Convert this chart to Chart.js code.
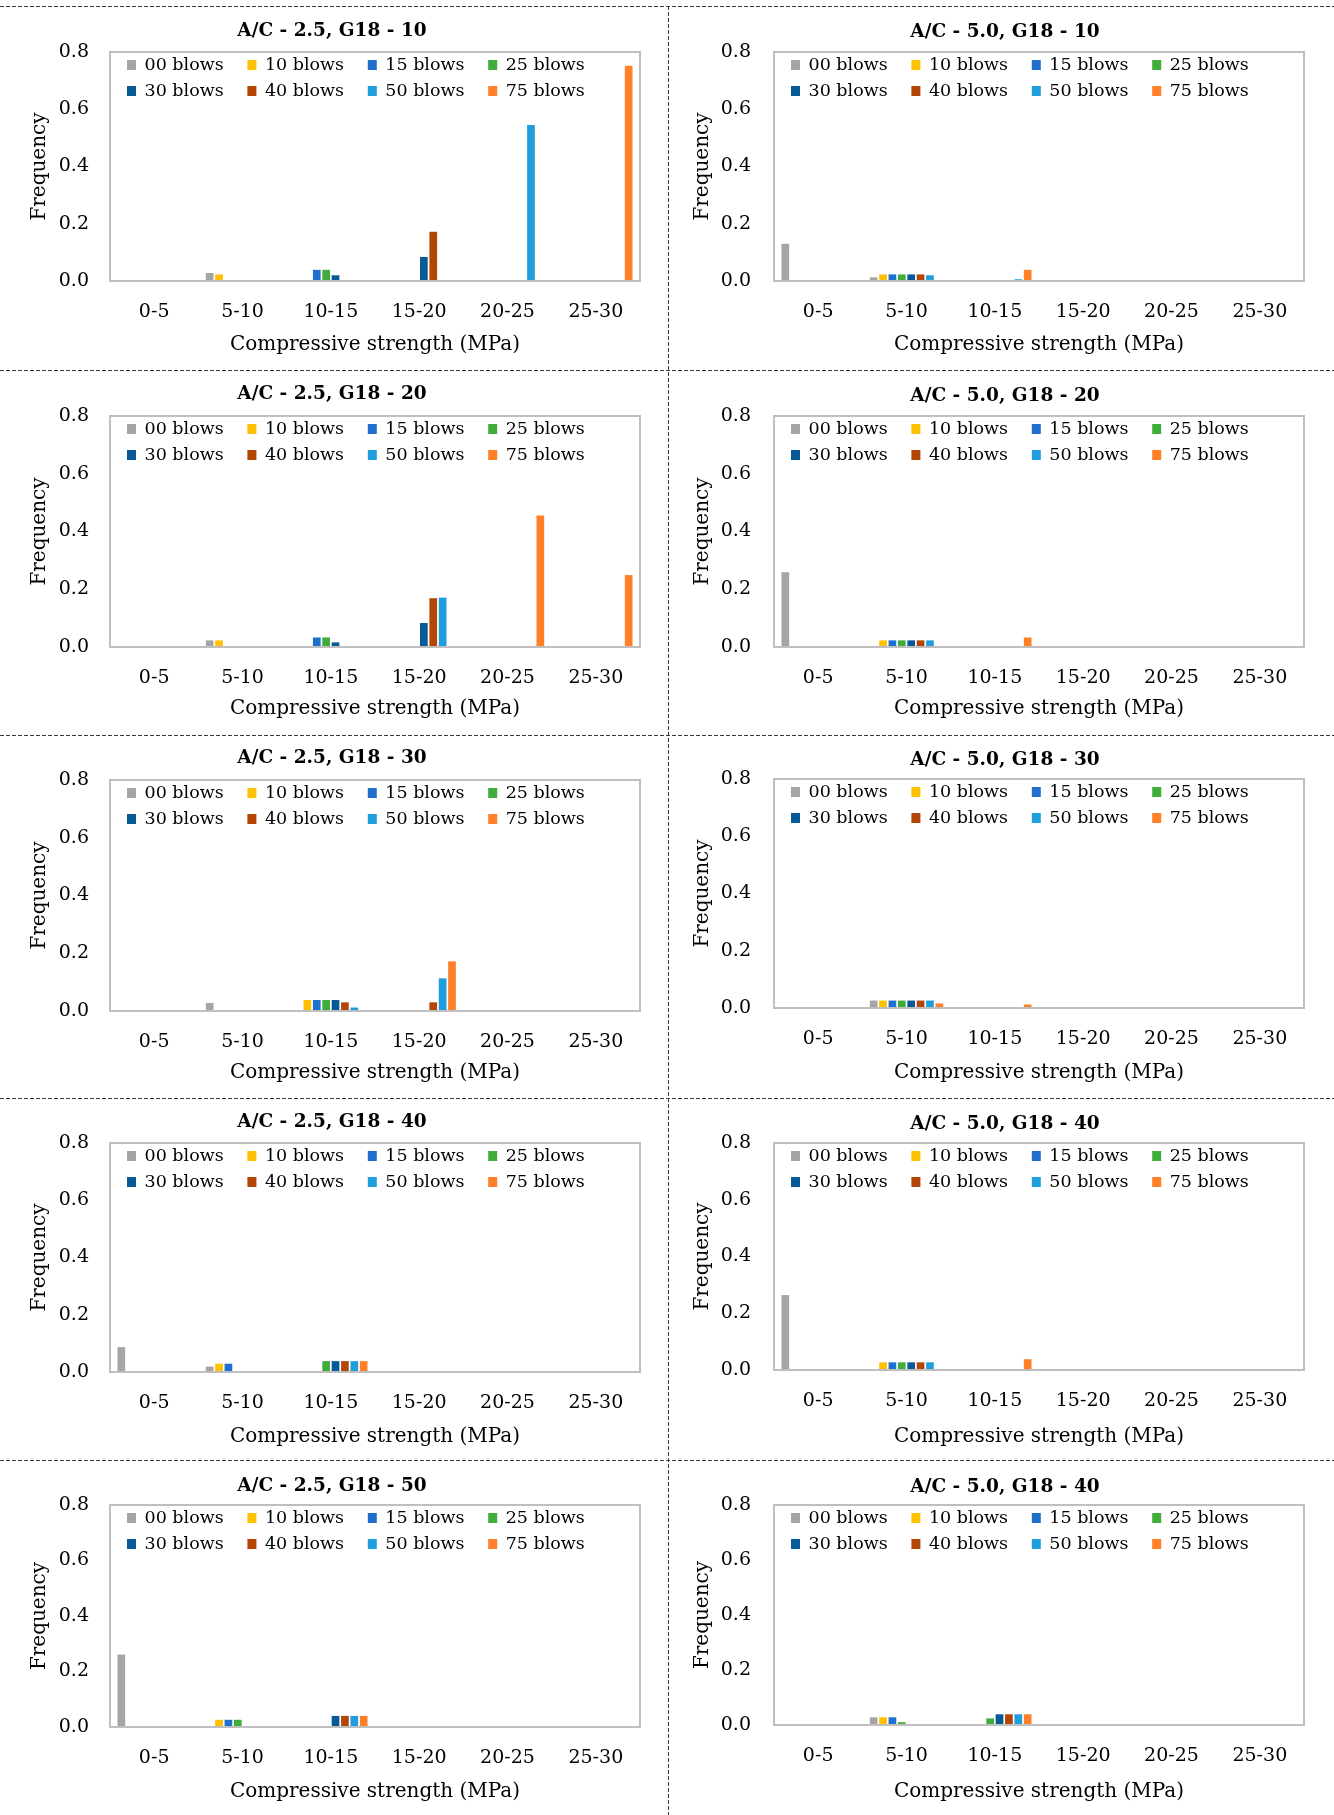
<!DOCTYPE html>
<html>
<head>
<meta charset="utf-8">
<script src="https://cdn.jsdelivr.net/npm/chart.js@4.4.0/dist/chart.umd.min.js"></script>
<style>
    body { margin: 0; background: #fff; }
    #page { position: relative; width: 1334px; height: 1815px; overflow: hidden; }
    #page canvas { position: absolute; }
</style>
</head>
<body>
<div id="page">
    <canvas id="separators" width="1334" height="1815" style="left:0;top:0"></canvas>
</div>
<script>
// ---- data ----
const categories = ['0-5', '5-10', '10-15', '15-20', '20-25', '25-30'];
const blowLabels = ['00 blows', '10 blows', '15 blows', '25 blows', '30 blows', '40 blows', '50 blows', '75 blows'];
const blowColors = ['#a5a5a5', '#ffc000', '#1f70cd', '#40ad3a', '#065a96', '#b44605', '#1e9edc', '#ff8028'];
const yTicks = [0, 0.2, 0.4, 0.6, 0.8];

// one row per blow count, one column per strength class
const ac25_g10 = [
    [0, 0.028, 0, 0, 0, 0],
    [0, 0.023, 0, 0, 0, 0],
    [0, 0, 0.039, 0, 0, 0],
    [0, 0, 0.039, 0, 0, 0],
    [0, 0, 0.020, 0.084, 0, 0],
    [0, 0, 0, 0.172, 0, 0],
    [0, 0, 0, 0, 0.545, 0],
    [0, 0, 0, 0, 0, 0.752]
];
const ac50_g10 = [
    [0.130, 0.013, 0, 0, 0, 0],
    [0, 0.023, 0, 0, 0, 0],
    [0, 0.023, 0, 0, 0, 0],
    [0, 0.023, 0, 0, 0, 0],
    [0, 0.023, 0, 0, 0, 0],
    [0, 0.023, 0, 0, 0, 0],
    [0, 0.020, 0.006, 0, 0, 0],
    [0, 0, 0.039, 0, 0, 0]
];
const ac25_g20 = [
    [0, 0.023, 0, 0, 0, 0],
    [0, 0.023, 0, 0, 0, 0],
    [0, 0, 0.033, 0, 0, 0],
    [0, 0, 0.033, 0, 0, 0],
    [0, 0, 0.016, 0.083, 0, 0],
    [0, 0, 0, 0.169, 0, 0],
    [0, 0, 0, 0.171, 0, 0],
    [0, 0, 0, 0, 0.455, 0.249]
];
const ac50_g20 = [
    [0.259, 0, 0, 0, 0, 0],
    [0, 0.023, 0, 0, 0, 0],
    [0, 0.023, 0, 0, 0, 0],
    [0, 0.023, 0, 0, 0, 0],
    [0, 0.023, 0, 0, 0, 0],
    [0, 0.023, 0, 0, 0, 0],
    [0, 0.023, 0, 0, 0, 0],
    [0, 0, 0.033, 0, 0, 0]
];
const ac25_g30 = [
    [0, 0.028, 0, 0, 0, 0],
    [0, 0, 0.038, 0, 0, 0],
    [0, 0, 0.038, 0, 0, 0],
    [0, 0, 0.038, 0, 0, 0],
    [0, 0, 0.038, 0, 0, 0],
    [0, 0, 0.030, 0.030, 0, 0],
    [0, 0, 0.012, 0.113, 0, 0],
    [0, 0, 0, 0.172, 0, 0]
];
const ac50_g30 = [
    [0, 0.026, 0, 0, 0, 0],
    [0, 0.026, 0, 0, 0, 0],
    [0, 0.026, 0, 0, 0, 0],
    [0, 0.026, 0, 0, 0, 0],
    [0, 0.026, 0, 0, 0, 0],
    [0, 0.026, 0, 0, 0, 0],
    [0, 0.026, 0, 0, 0, 0],
    [0, 0.016, 0.012, 0, 0, 0]
];
const ac25_g40 = [
    [0.087, 0.019, 0, 0, 0, 0],
    [0, 0.029, 0, 0, 0, 0],
    [0, 0.029, 0, 0, 0, 0],
    [0, 0, 0.038, 0, 0, 0],
    [0, 0, 0.038, 0, 0, 0],
    [0, 0, 0.038, 0, 0, 0],
    [0, 0, 0.038, 0, 0, 0],
    [0, 0, 0.038, 0, 0, 0]
];
const ac50_g40 = [
    [0.264, 0, 0, 0, 0, 0],
    [0, 0.027, 0, 0, 0, 0],
    [0, 0.027, 0, 0, 0, 0],
    [0, 0.027, 0, 0, 0, 0],
    [0, 0.027, 0, 0, 0, 0],
    [0, 0.027, 0, 0, 0, 0],
    [0, 0.027, 0, 0, 0, 0],
    [0, 0, 0.038, 0, 0, 0]
];
const ac25_g50 = [
    [0.261, 0, 0, 0, 0, 0],
    [0, 0.026, 0, 0, 0, 0],
    [0, 0.026, 0, 0, 0, 0],
    [0, 0.026, 0, 0, 0, 0],
    [0, 0, 0.040, 0, 0, 0],
    [0, 0, 0.040, 0, 0, 0],
    [0, 0, 0.040, 0, 0, 0],
    [0, 0, 0.040, 0, 0, 0]
];
const ac50_g40b = [
    [0, 0.028, 0, 0, 0, 0],
    [0, 0.028, 0, 0, 0, 0],
    [0, 0.028, 0, 0, 0, 0],
    [0, 0.010, 0.024, 0, 0, 0],
    [0, 0, 0.039, 0, 0, 0],
    [0, 0, 0.039, 0, 0, 0],
    [0, 0, 0.039, 0, 0, 0],
    [0, 0, 0.039, 0, 0, 0]
];

// ---- layout ----
const FONT = "'DejaVu Serif', serif";
Chart.defaults.color = '#000';
Chart.defaults.font.family = FONT;

const columns = [
    { x: 0, w: 664, plotL: 110, plotR: 640, tickRight: 89, yTitleX: 40, titleX: 332 },
    { x: 672, w: 662, plotL: 774, plotR: 1304, tickRight: 751, yTitleX: 703, titleX: 1005 }
];

const panels = [
    { title: 'A/C - 2.5, G18 - 10', values: ac25_g10, col: 0, plotTop: 52, plotBottom: 281, titleY: 31, xTitleGap: 62 },
    { title: 'A/C - 5.0, G18 - 10', values: ac50_g10, col: 1, plotTop: 52, plotBottom: 281, titleY: 32, xTitleGap: 62 },
    { title: 'A/C - 2.5, G18 - 20', values: ac25_g20, col: 0, plotTop: 416, plotBottom: 647, titleY: 394, xTitleGap: 60 },
    { title: 'A/C - 5.0, G18 - 20', values: ac50_g20, col: 1, plotTop: 416, plotBottom: 647, titleY: 396, xTitleGap: 60 },
    { title: 'A/C - 2.5, G18 - 30', values: ac25_g30, col: 0, plotTop: 780, plotBottom: 1011, titleY: 758, xTitleGap: 60 },
    { title: 'A/C - 5.0, G18 - 30', values: ac50_g30, col: 1, plotTop: 779, plotBottom: 1008, titleY: 760, xTitleGap: 63 },
    { title: 'A/C - 2.5, G18 - 40', values: ac25_g40, col: 0, plotTop: 1143, plotBottom: 1372, titleY: 1122, xTitleGap: 63 },
    { title: 'A/C - 5.0, G18 - 40', values: ac50_g40, col: 1, plotTop: 1143, plotBottom: 1370, titleY: 1124, xTitleGap: 65 },
    { title: 'A/C - 2.5, G18 - 50', values: ac25_g50, col: 0, plotTop: 1505, plotBottom: 1727, titleY: 1486, xTitleGap: 63 },
    { title: 'A/C - 5.0, G18 - 40', values: ac50_g40b, col: 1, plotTop: 1505, plotBottom: 1725, titleY: 1487, xTitleGap: 65 }
];

// dashed frame lines between the panels
(function drawSeparators() {
    const ctx = document.getElementById('separators').getContext('2d');
    ctx.strokeStyle = '#3a3a3a';
    ctx.lineWidth = 1;
    ctx.setLineDash([4, 2]);
    [6, 370, 735, 1098, 1460].forEach(y => {
        ctx.beginPath();
        ctx.moveTo(0, y + 0.5);
        ctx.lineTo(1334, y + 0.5);
        ctx.stroke();
    });
    ctx.beginPath();
    ctx.moveTo(668.5, 6);
    ctx.lineTo(668.5, 1815);
    ctx.stroke();
})();

// plot frame, inside legend (2 rows x 4) and the panel title
const panelDecor = {
    id: 'panelDecor',
    afterDatasetsDraw(chart, args, opts) {
        const { ctx, chartArea: a } = chart;
        ctx.save();
        ctx.strokeStyle = '#bfbfbf';
        ctx.lineWidth = 2;
        ctx.strokeRect(a.left, a.top, a.right - a.left, a.bottom - a.top);

        ctx.font = `17.5px ${FONT}`;
        ctx.textBaseline = 'middle';
        ctx.textAlign = 'left';
        chart.data.datasets.forEach((ds, i) => {
            const x = a.left + 17 + (i % 4) * 120.4;
            const y = a.top + 13 + Math.floor(i / 4) * 26;
            ctx.fillStyle = ds.backgroundColor;
            ctx.fillRect(x, y - 5, 9, 10);
            ctx.fillStyle = '#000';
            ctx.fillText(ds.label, x + 17.5, y);
        });

        ctx.font = `bold 18.5px ${FONT}`;
        ctx.textAlign = 'center';
        ctx.fillText(opts.text, opts.x, opts.y);
        ctx.restore();
    }
};

panels.forEach(p => {
    const c = columns[p.col];
    const padTop = 40;
    const top = p.plotTop - padTop;
    const axisH = p.xTitleGap + 12 + 2;
    const h = p.plotBottom - top + axisH;

    const canvas = document.createElement('canvas');
    canvas.width = c.w;
    canvas.height = h;
    canvas.style.left = c.x + 'px';
    canvas.style.top = top + 'px';
    document.getElementById('page').appendChild(canvas);

    new Chart(canvas, {
        type: 'bar',
        data: {
            labels: categories,
            datasets: blowLabels.map((label, i) => ({
                label,
                data: p.values[i],
                backgroundColor: blowColors[i],
                borderWidth: 0,
                categoryPercentage: 0.85,
                barPercentage: 0.82
            }))
        },
        options: {
            responsive: false,
            animation: false,
            layout: { padding: { left: 0, top: padTop, right: c.x + c.w - c.plotR, bottom: 0 } },
            plugins: {
                legend: { display: false },
                tooltip: { enabled: false },
                panelDecor: { text: p.title, x: c.titleX - c.x, y: p.titleY - top }
            },
            scales: {
                x: {
                    grid: { display: false, drawTicks: false },
                    border: { display: false },
                    ticks: { font: { size: 19 }, padding: 20, maxRotation: 0 },
                    title: { display: true, text: 'Compressive strength (MPa)', font: { size: 20 }, padding: { top: 0, bottom: 0 } },
                    afterFit: s => { s.height = axisH; }
                },
                y: {
                    min: yTicks[0],
                    max: yTicks[yTicks.length - 1],
                    grid: { display: false, drawTicks: false },
                    border: { display: false },
                    ticks: { stepSize: 0.2, font: { size: 19 }, padding: c.plotL - c.tickRight, callback: v => v.toFixed(1) },
                    title: { display: true, text: 'Frequency', font: { size: 20 }, padding: { top: c.yTitleX - c.x - 12, bottom: 0 } },
                    afterFit: s => { s.width = c.plotL - c.x; }
                }
            }
        },
        plugins: [panelDecor]
    });
});
</script>
</body>
</html>
